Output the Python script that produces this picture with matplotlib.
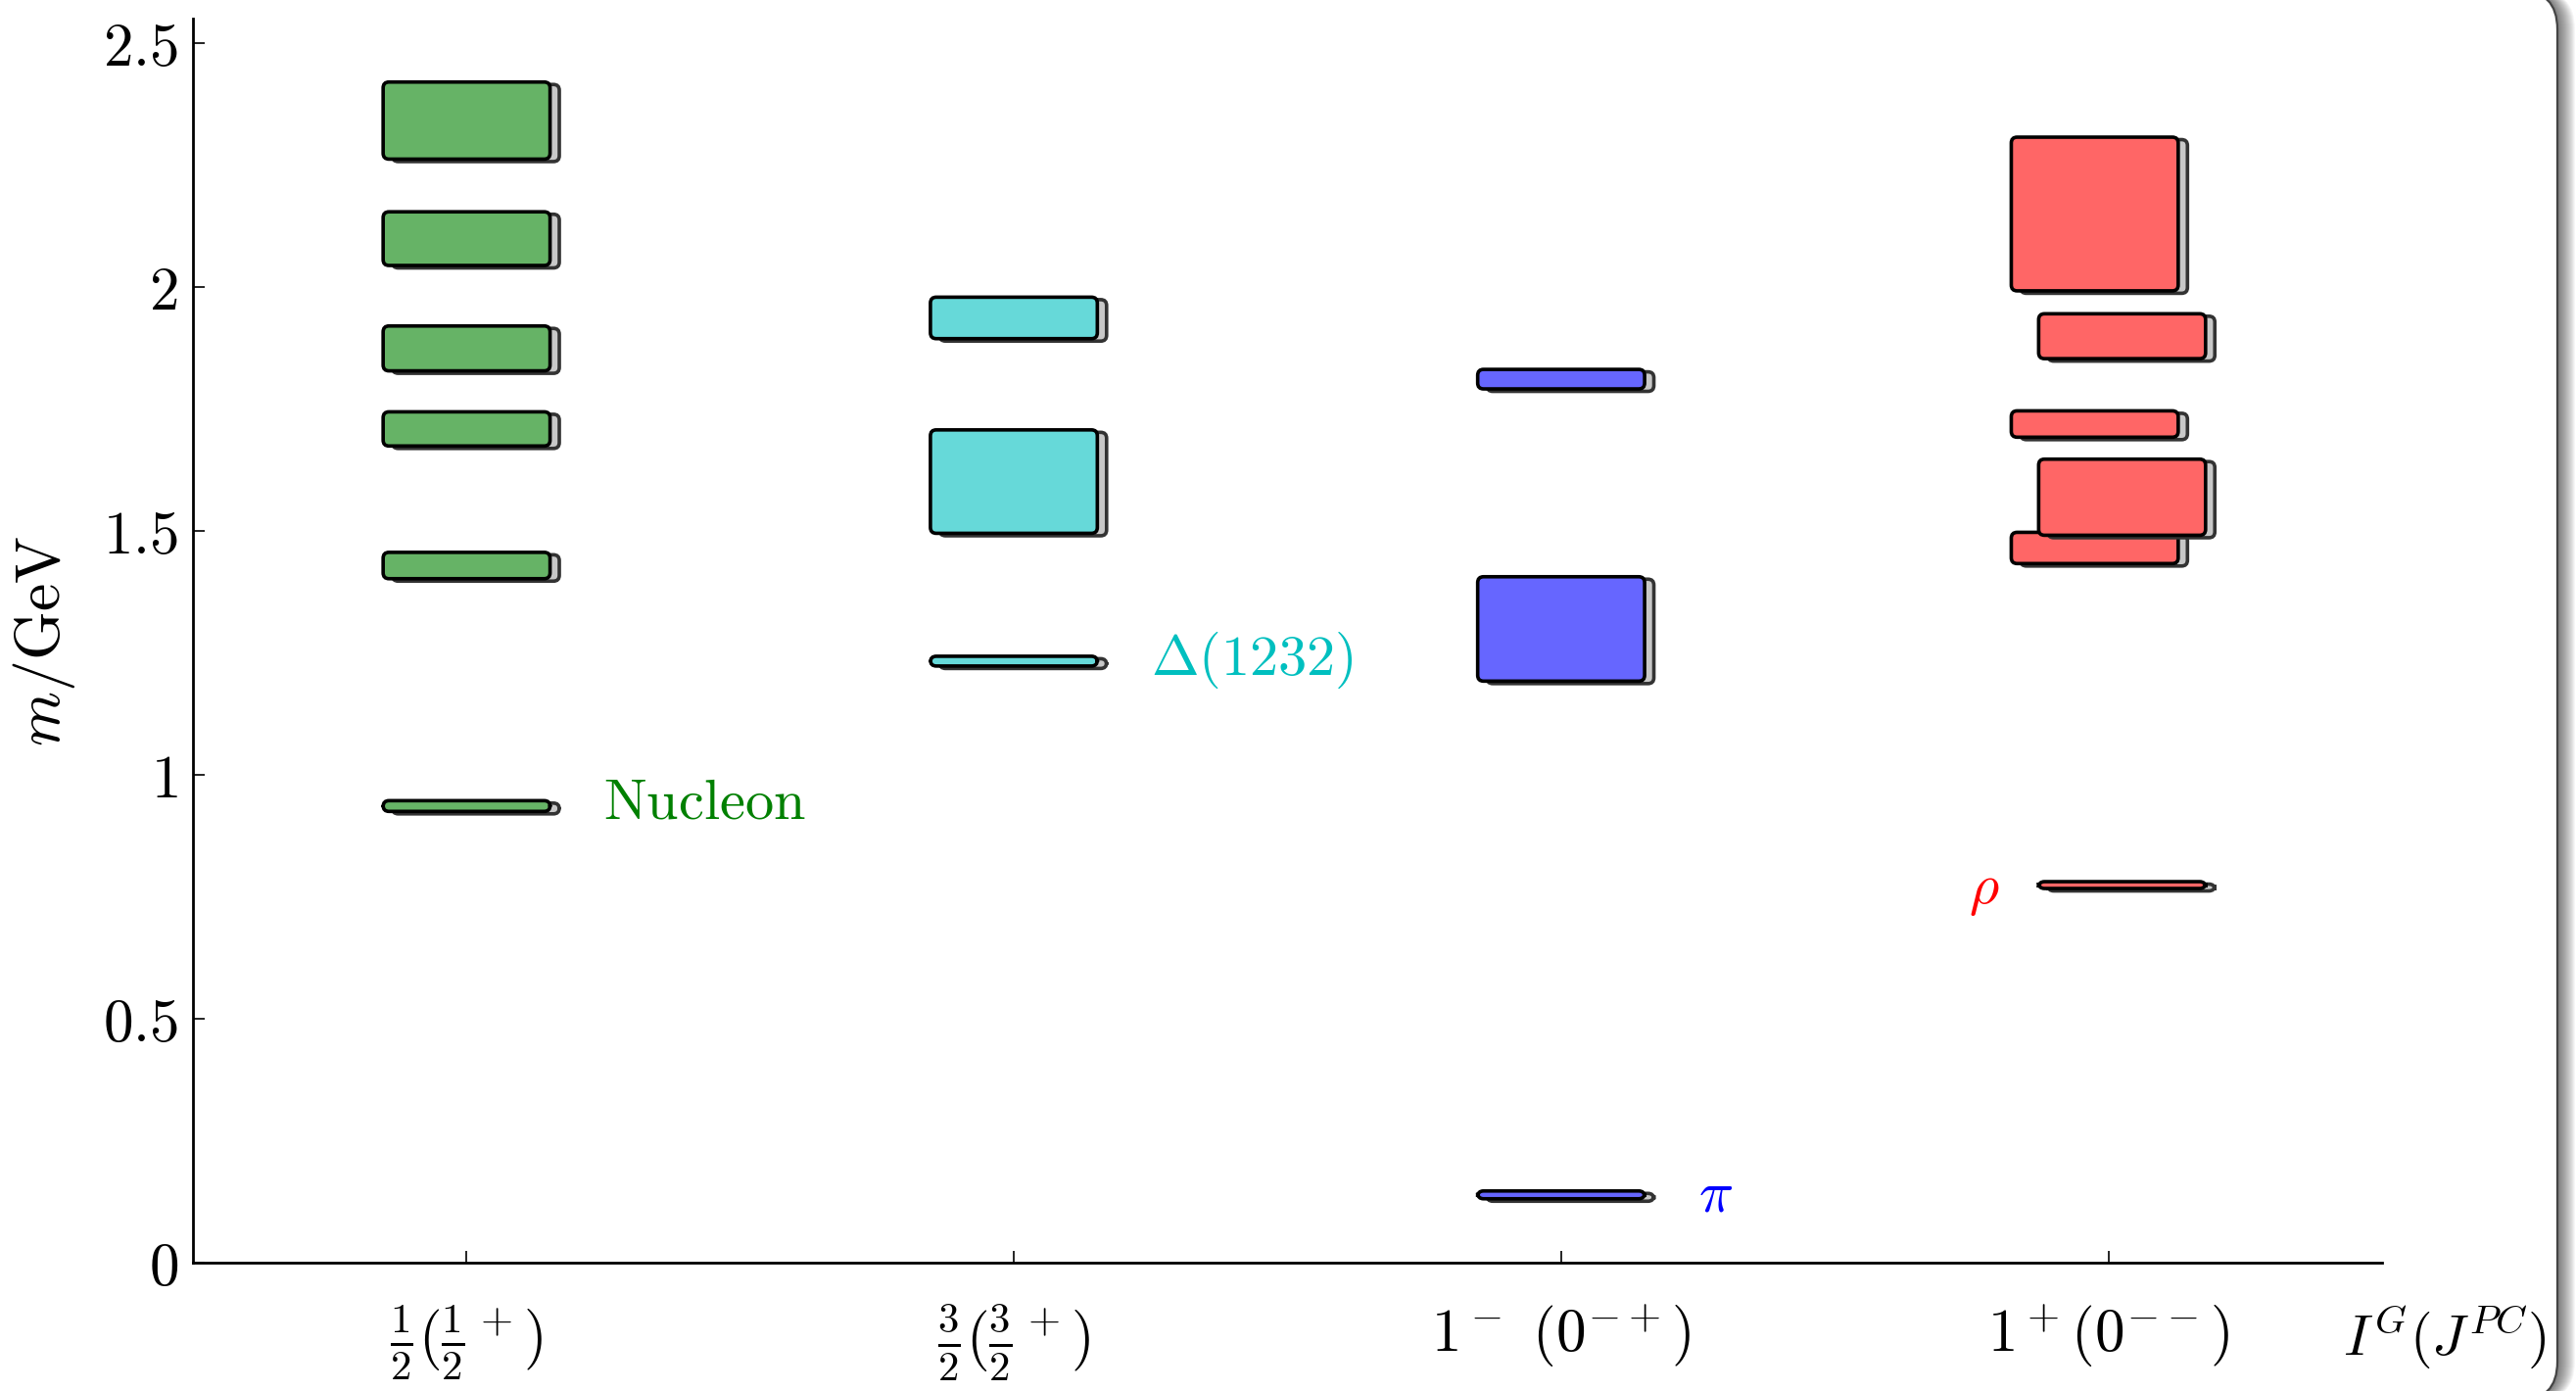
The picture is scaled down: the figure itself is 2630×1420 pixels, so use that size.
import matplotlib.pyplot as plt
import matplotlib.colors as mcolors
from matplotlib.patches import FancyBboxPatch
from matplotlib import transforms

plt.rcParams['mathtext.fontset'] = 'cm'
plt.rcParams['font.family'] = 'serif'

# columns (isospin / quantum numbers)
columns = [1, 2, 3, 4]
col_labels = [r'$\frac{1}{2}(\frac{1}{2}^+)$', r'$\frac{3}{2}(\frac{3}{2}^+)$',
              r'$1^-\ (0^{-+})$', r'$1^+(0^{--})$']

# mass bands in GeV: lower and upper edge of each state
nucleon_lo = [0.925, 1.402, 1.674, 1.828, 2.044, 2.262]
nucleon_hi = [0.947, 1.456, 1.744, 1.920, 2.154, 2.420]
delta_lo = [1.223, 1.495, 1.894]
delta_hi = [1.243, 1.707, 1.979]
pion_lo = [0.131, 1.192, 1.791]
pion_hi = [0.147, 1.406, 1.831]
rho_lo = [0.767, 1.433, 1.491, 1.692, 1.853, 1.992]
rho_hi = [0.781, 1.497, 1.647, 1.746, 1.945, 2.307]

colors = ['g', 'c', 'b', 'r']
names = [r'$\mathrm{Nucleon}$', r'$\Delta(1232)$', r'$\pi$', r'$\rho$']
name_y = [0.943, 1.235, 0.138, 0.762]

yticks = [0, 0.5, 1, 1.5, 2, 2.5]
ytick_labels = [r'$0$', r'$0.5$', r'$1$', r'$1.5$', r'$2$', r'$2.5$']

W, H = 2630, 1420
fig = plt.figure(figsize=(W / 200, H / 200), dpi=200)
ax = fig.add_axes([197 / W, 1 - 1289 / H, 2235 / W, 1270 / H])
ax.set_xlim(0.5, 4.5)
ax.set_ylim(0, 2.55)

# rounded frame with a soft shadow on the right
fr = 40 / W
for k in range(1, 19):
    fig.patches.append(FancyBboxPatch(
        ((-60 + k) / W, -10 / H), 2671 / W, 1440 / H,
        boxstyle=f'round,pad=0,rounding_size={fr}', mutation_aspect=W / H,
        transform=fig.transFigure, fc='k', ec='none', alpha=0.035, zorder=-3))
fig.patches.append(FancyBboxPatch(
    (-60 / W, -10 / H), 2671 / W, 1440 / H,
    boxstyle=f'round,pad=0,rounding_size={fr}', mutation_aspect=W / H,
    transform=fig.transFigure, fc='white', ec='#444444', lw=0.8, zorder=-2))
ax.patch.set_visible(False)

# keep corner rounding the same size in x and y
bb = ax.get_position()
aspect = (2.55 / (bb.height * H)) / (4.0 / (bb.width * W))
rounding = 6 / (bb.width * W / 4.0)
box_width = 0.305
shadow_tr = transforms.offset_copy(ax.transData, fig=fig, x=3.4, y=-0.9, units='points')


def draw_state(x, lo, hi, color):
    rgb = mcolors.to_rgb(color)
    fill = tuple(0.6 * v + 0.4 for v in rgb)
    kw = dict(boxstyle=f'round,pad=0,rounding_size={rounding}',
              mutation_aspect=aspect, lw=1.3)
    xy = (x - box_width / 2, lo)
    ax.add_patch(FancyBboxPatch(xy, box_width, hi - lo, transform=shadow_tr,
                                fc='#c8c8c8', ec='#333333', **kw))
    ax.add_patch(FancyBboxPatch(xy, box_width, hi - lo, fc=fill, ec='k', **kw))


bands = [(nucleon_lo, nucleon_hi), (delta_lo, delta_hi),
         (pion_lo, pion_hi), (rho_lo, rho_hi)]
for ci, (lo_list, hi_list) in enumerate(bands):
    for i, (lo, hi) in enumerate(zip(lo_list, hi_list)):
        x = columns[ci]
        if ci == 3:
            # rho states overlap, so stagger them left/right
            x += 0.025 if i % 2 == 0 else -0.025
        draw_state(x, lo, hi, colors[ci])

for ci in range(4):
    if ci == 3:
        ax.text(columns[ci] - 0.2, name_y[ci], names[ci], color=colors[ci],
                ha='right', va='center', fontsize=21)
    else:
        ax.text(columns[ci] + 0.25, name_y[ci], names[ci], color=colors[ci],
                ha='left', va='center', fontsize=21)

ax.set_xticks(columns)
ax.set_xticklabels(col_labels, fontsize=22)
ax.set_yticks(yticks)
ax.set_yticklabels(ytick_labels, fontsize=22)
ax.tick_params(axis='both', direction='in', length=4.3, width=0.6, top=False, right=False)
ax.tick_params(axis='x', pad=14.5)
ax.tick_params(axis='y', pad=5.5)

for side in ['top', 'right']:
    ax.spines[side].set_visible(False)
for side in ['left', 'bottom']:
    ax.spines[side].set_linewidth(1.0)

ax.set_ylabel(r'$m/\mathrm{GeV}$', fontsize=23)
ax.yaxis.set_label_coords(-0.053, 0.5)
ax.set_xlabel(r'$I^G(J^{PC})$', fontsize=21)
ax.xaxis.set_label_coords(1.0286, -0.0323)
ax.xaxis.label.set_verticalalignment('top')

fig.savefig('out.png', dpi=200)
